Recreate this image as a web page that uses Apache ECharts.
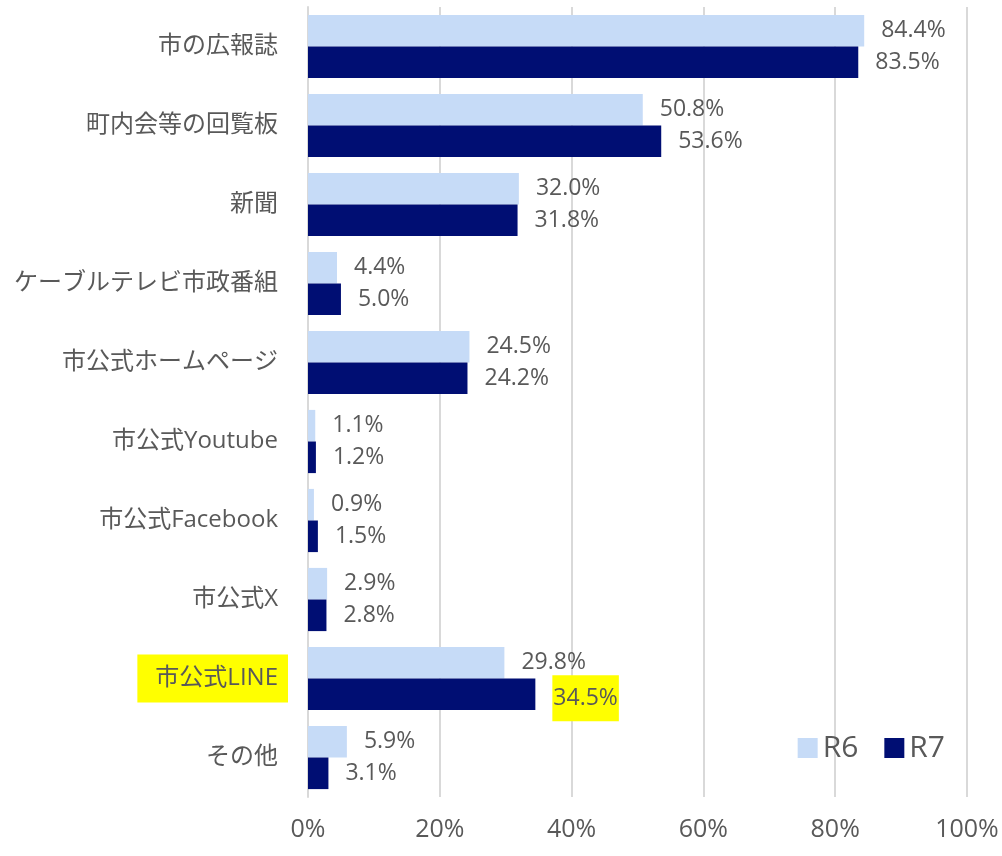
<!DOCTYPE html>
<html>
<head>
<meta charset="utf-8">
<script src="https://cdn.jsdelivr.net/npm/echarts@6/dist/echarts.min.js"></script>
<style>
  html, body { margin: 0; padding: 0; background: #fff; }
  #chart { width: 1002px; height: 856px; }
</style>
</head>
<body>
<div id="chart"></div>
<script>
// categories, top to bottom
var categories = ['市の広報誌', '町内会等の回覧板', '新聞', 'ケーブルテレビ市政番組', '市公式ホームページ',
  '市公式Youtube', '市公式Facebook', '市公式X', '市公式LINE', 'その他'];
var r6 = [84.4, 50.8, 32.0, 4.4, 24.5, 1.1, 0.9, 2.9, 29.8, 5.9];
var r7 = [83.5, 53.6, 31.8, 5.0, 24.2, 1.2, 1.5, 2.8, 34.5, 3.1];
var xTicks = [0, 20, 40, 60, 80, 100];
var highlight = '市公式LINE';

var font = '"Open Sans", "Noto Sans CJK JP", sans-serif';
var textColor = '#595959';

var myChart = echarts.init(document.getElementById('chart'));

function labelFmt(p) {
  return p.value.toFixed(1) + '%';
}

var r7Data = r7.map(function (v, i) {
  if (categories[i] === highlight) {
    return {
      value: v,
      label: { backgroundColor: '#ffff00', padding: [11, 1, 11, 1], lineHeight: 24, offset: [0, 4] }
    };
  }
  return v;
});

var option = {
  animation: false,
  textStyle: { fontFamily: font },
  grid: { left: 308, right: 35, top: 7, bottom: 59, containLabel: false },
  legend: {
    data: ['R6', 'R7'],
    right: 52,
    top: 728,
    itemWidth: 20,
    itemHeight: 20,
    itemGap: 26,
    icon: 'rect',
    textStyle: { fontSize: 30, color: textColor, fontFamily: font }
  },
  xAxis: {
    type: 'value',
    min: 0,
    max: 100,
    interval: 20,
    axisLine: { show: false },
    axisTick: { show: false },
    splitLine: { lineStyle: { color: '#d9d9d9', width: 2 } },
    axisLabel: {
      margin: 20,
      fontSize: 25,
      color: textColor,
      formatter: function (v) { return xTicks.indexOf(v) >= 0 ? v + '%' : ''; }
    }
  },
  yAxis: {
    type: 'category',
    inverse: true,
    data: categories,
    axisLine: { show: true, lineStyle: { color: '#d9d9d9', width: 2 } },
    axisTick: { show: false },
    axisLabel: {
      margin: 20,
      fontSize: 24,
      color: textColor,
      formatter: function (v) {
        return v === highlight ? '{hl|' + v + '}' : '{n|' + v + '}';
      },
      rich: {
        n: {
          fontSize: 24,
          color: textColor,
          padding: [0, 10, 0, 0],
          fontFamily: font
        },
        hl: {
          fontSize: 24,
          lineHeight: 24,
          color: textColor,
          backgroundColor: '#ffff00',
          padding: [12, 10, 12, 18],
          fontFamily: font
        }
      }
    }
  },
  series: [
    {
      name: 'R6',
      type: 'bar',
      data: r6,
      barGap: '0%',
      barCategoryGap: '20%',
      itemStyle: { color: '#c6dbf7' },
      label: {
        show: true,
        position: 'right',
        distance: 17,
        fontSize: 23,
        color: textColor,
        formatter: labelFmt
      }
    },
    {
      name: 'R7',
      type: 'bar',
      data: r7Data,
      barGap: '0%',
      barCategoryGap: '20%',
      itemStyle: { color: '#000e73' },
      label: {
        show: true,
        position: 'right',
        distance: 17,
        fontSize: 23,
        color: textColor,
        formatter: labelFmt
      }
    }
  ]
};

myChart.setOption(option);
</script>
</body>
</html>
